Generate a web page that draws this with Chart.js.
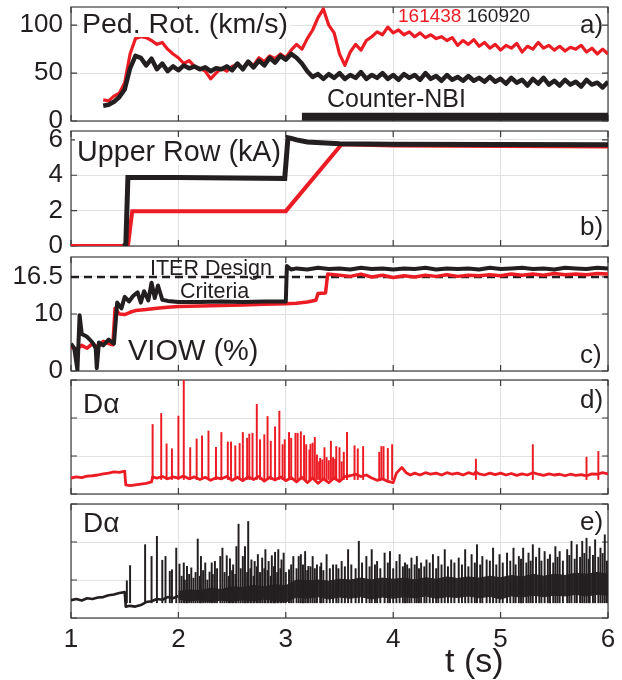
<!DOCTYPE html>
<html><head><meta charset="utf-8">
<script src="https://cdn.jsdelivr.net/npm/chart.js@4.4.1/dist/chart.umd.min.js"></script>
<style>
body{margin:0;background:#fff;width:622px;height:680px;position:relative;overflow:hidden;font-family:"Liberation Sans",Arial,Helvetica,sans-serif;}
canvas{position:absolute;left:0;}
svg{position:absolute;left:0;top:0;}
</style></head><body>
<canvas id="pa" width="622" height="162" style="top:-17px"></canvas>
<canvas id="pb" width="622" height="163" style="top:107px"></canvas>
<canvas id="pc" width="622" height="162" style="top:233px"></canvas>
<canvas id="pd" width="622" height="162" style="top:356px"></canvas>
<canvas id="pe" width="622" height="200" style="top:480px"></canvas>
<svg id="ann" width="622" height="680" xmlns="http://www.w3.org/2000/svg"></svg>
<script>
// ---------- DATA ----------
const xTicks = [1, 2, 3, 4, 5, 6];

// a) Pedestal rotation (km/s)
const tA = [1.30,1.35,1.40,1.45,1.50,1.55,1.60,1.65,1.70,1.75,1.80,1.85,1.90,1.95,2.00,2.05,2.10,2.15,2.20,2.25,2.30,2.35,2.40,2.45,2.50,2.55,2.60,2.65,2.70,2.75,2.80,2.85,2.90,2.95,3.00,3.05,3.10,3.15,3.20,3.25,3.30,3.35,3.40,3.45,3.50,3.55,3.60,3.65,3.70,3.75,3.80,3.85,3.90,3.95,4.00,4.05,4.10,4.15,4.20,4.25,4.30,4.35,4.40,4.45,4.50,4.55,4.60,4.65,4.70,4.75,4.80,4.85,4.90,4.95,5.00,5.05,5.10,5.15,5.20,5.25,5.30,5.35,5.40,5.45,5.50,5.55,5.60,5.65,5.70,5.75,5.80,5.85,5.90,5.95,6.00];
const rotRed = [22,21,26,29,40,70,86,88,87,84,
  80,82,75,70,66,60,63,57,55,52,
  44,50,55,52,57,59,55,62,58,66,
  62,68,65,70,66,74,80,75,86,95,
  108,117,100,92,70,58,72,80,74,84,
  88,93,90,98,92,95,90,93,88,92,
  87,90,86,88,84,87,79,84,80,85,
  78,82,76,80,74,79,76,81,72,78,
  75,82,76,79,74,78,73,77,75,79,
  72,76,70,75,70];
const rotBlack = [16,17,20,25,33,55,68,66,58,65,
  54,60,52,57,53,58,55,57,54,56,
  52,55,54,57,53,60,54,62,56,63,
  58,66,61,68,64,70,66,60,52,46,
  49,44,49,45,50,44,48,45,51,44,
  48,45,50,44,48,43,49,45,48,43,
  50,44,47,42,48,43,46,42,47,42,
  45,41,46,41,44,39,45,40,43,37,
  44,39,45,38,42,37,43,38,41,36,
  43,38,40,35,41];
const yTicksA = [0, 50, 100];
const nbiT = [3.15, 6.0];
const nbiV = [4.5, 4.5];

// b) Upper row coil current (kA)
const tRowRed = [1.00,1.53,1.57,2.00,3.00,3.52,4.00,5.00,6.00];
const rowRed = [0,0,1.97,1.97,1.97,5.75,5.68,5.65,5.62];
const tRowBlack = [1.48,1.51,1.53,2.00,2.50,2.99,3.02,3.05,3.10,3.20,3.50,4.00,5.00,6.00];
const rowBlack = [0,0,3.87,3.87,3.85,3.82,6.12,6.08,6.00,5.88,5.78,5.75,5.73,5.72];
const yTicksB = [0, 2, 4, 6];

// c) VIOW (%)
const tViowRed = [1.00,1.05,1.10,1.15,1.20,1.25,1.30,1.35,1.39,1.41,1.45,1.50,1.55,1.60,1.70,1.80,1.90,2.00,2.20,2.40,2.60,2.80,3.00,3.10,3.20,3.28,3.30,3.37,3.39,
  3.50,3.60,3.70,3.80,3.90,4.00,4.10,4.20,4.30,4.40,4.50,4.60,4.70,4.80,4.90,5.00,5.10,5.20,5.30,5.40,5.50,5.60,5.70,5.80,5.90,6.00];
const viowRed = [4.2,3.8,4.5,4.0,4.8,4.2,5.2,4.8,4.6,11.0,10.0,9.9,10.3,10.6,10.8,11.0,11.2,11.3,11.4,11.5,11.6,11.7,11.8,11.9,12.1,12.4,13.6,13.7,17.0,
  16.8,16.6,17.0,16.5,16.8,16.4,16.7,16.5,16.8,16.6,16.9,16.6,16.8,16.7,16.9,16.7,17.0,16.8,17.0,16.8,17.1,16.9,17.0,16.9,17.1,17.0];
const tViowBlack = [1.00,1.03,1.06,1.08,1.10,1.15,1.20,1.23,1.24,1.26,1.30,1.35,1.40,1.43,1.47,1.50,1.54,1.58,1.62,1.65,1.68,1.72,1.75,1.78,1.81,1.85,1.90,2.00,2.20,2.40,2.60,2.80,3.00,3.01,3.05,
  3.10,3.20,3.30,3.40,3.50,3.60,3.70,3.80,3.90,4.00,4.10,4.20,4.30,4.40,4.50,4.60,4.70,4.80,4.90,5.00,5.10,5.20,5.30,5.40,5.50,5.60,5.70,5.80,5.90,6.00];
const viowBlack = [4.8,4.0,0.2,9.8,6.5,6.0,5.0,4.0,0.5,5.0,4.5,5.5,4.8,12.0,11.0,13.0,12.2,13.2,13.8,12.0,14.0,12.4,15.5,12.8,15.0,12.5,12.3,12.1,12.1,12.2,12.1,12.2,12.2,18.4,17.8,
  18.0,17.8,18.1,17.9,18.0,17.8,18.1,17.9,18.0,17.8,18.0,17.9,18.1,17.8,18.0,17.9,18.0,17.8,18.1,17.9,18.0,18.1,17.9,18.0,17.8,18.1,18.0,17.9,18.1,18.0];
const iterT = [1, 6];
const iterV = [16.5, 16.5];
const yTicksC = [0, 10, 16.5];

// d) D-alpha, 161438 (arb. units)
const tD = [1.00,1.05,1.10,1.15,1.20,1.25,1.30,1.35,1.40,1.45,1.50,1.51,1.55,1.60,1.65,1.70,1.75,1.76,1.80,1.85,1.90,1.95,2.00,2.05,2.10,2.15,2.20,2.25,2.30,2.35,2.40,2.45,2.50,2.55,2.60,2.65,2.70,2.75,2.80,2.85,2.90,2.95,3.00,3.05,3.10,3.15,3.20,3.25,3.30,3.35,3.40,3.45,3.50,3.55,3.60,3.65,3.70,3.75,3.80,3.85,3.90,3.95,4.00,4.03,4.08,4.12,4.16,4.20,4.25,4.30,4.35,4.40,4.45,4.50,4.55,4.60,4.65,4.70,4.75,4.77,4.80,4.85,4.90,4.95,5.00,5.05,5.10,5.15,5.20,5.25,5.30,5.35,5.40,5.45,5.50,5.55,5.60,5.65,5.70,5.75,5.80,5.85,5.90,5.95,6.00];
const dBase = [0.42,0.45,0.43,0.47,0.48,0.50,0.53,0.55,0.58,0.57,0.60,0.24,0.22,0.24,0.26,0.28,0.32,0.45,0.42,0.46,0.40,0.45,0.42,0.47,0.40,0.45,0.38,0.44,0.36,0.43,0.40,0.46,0.36,0.44,0.35,0.45,0.38,0.46,0.34,0.44,0.37,0.45,0.35,0.43,0.32,0.44,0.30,0.42,0.28,0.40,0.30,0.42,0.33,0.46,0.48,0.52,0.46,0.50,0.42,0.36,0.40,0.33,0.30,0.55,0.70,0.56,0.50,0.55,0.50,0.56,0.52,0.55,0.50,0.56,0.52,0.55,0.50,0.56,0.52,0.58,0.53,0.50,0.55,0.51,0.55,0.50,0.54,0.49,0.53,0.50,0.56,0.52,0.49,0.53,0.50,0.52,0.48,0.52,0.49,0.51,0.48,0.53,0.52,0.56,0.53];
const dSpikeT = [1.76,1.84,1.89,1.94,2.00,2.05,2.11,2.17,2.22,2.28,2.35,2.40,2.46,2.49,2.53,2.57,2.60,2.64,2.66,2.69,2.73,2.76,2.80,2.83,2.86,2.90,2.94,2.97,2.99,3.03,3.05,3.09,3.11,3.14,3.17,3.19,3.22,3.23,3.25,3.27,3.29,3.32,3.36,3.38,3.42,3.44,3.47,3.50,3.54,3.57,3.64,3.67,3.72,3.87,3.89,3.91,3.95,3.99,4.77,5.30,5.80,5.91,3.31,3.34,3.40,3.46,3.52];
const dSpikeV = [1.83,2.12,1.32,1.19,2.05,3.0,1.22,1.45,1.53,1.66,1.23,1.62,1.37,1.37,1.27,1.33,1.62,1.47,1.58,1.60,2.36,1.43,1.56,2.04,1.39,1.77,2.18,1.30,1.43,1.62,1.47,1.60,1.60,1.64,1.54,1.30,1.16,1.31,1.34,1.49,1.03,0.94,1.22,0.96,1.39,0.96,1.25,1.22,1.10,1.62,1.27,1.19,1.25,1.10,1.25,1.25,1.20,1.30,0.92,1.30,0.97,1.12,0.85,0.90,0.88,0.92,0.85];
const dSpikeFloor = 0.38;

// e) D-alpha, 160920 (arb. units)
const tEBase = [1.00,1.05,1.10,1.15,1.20,1.25,1.30,1.35,1.40,1.45,1.50,1.51,1.55,1.60,1.65,1.70,1.75,1.80,1.85,1.90,1.95,2.00];
const eBase = [0.47,0.50,0.46,0.52,0.50,0.54,0.55,0.60,0.62,0.66,0.68,0.30,0.32,0.30,0.34,0.42,0.44,0.50,0.48,0.55,0.52,0.58];
const tEBand = [2.0,2.1,2.2,2.3,2.4,2.5,2.6,2.7,2.8,2.9,3.0,3.1,3.2,3.3,3.4,3.5,3.6,3.7,3.8,3.9,4.0,4.1,4.2,4.3,4.4,4.5,4.6,4.7,4.8,4.9,5.0,5.1,5.2,5.3,5.4,5.5,5.6,5.7,5.8,5.9,6.0];
const eBandHi = [0.70,0.74,0.72,0.78,0.75,0.82,0.80,0.86,0.82,0.88,0.85,1.00,0.98,1.00,0.97,1.02,1.00,1.05,1.00,1.05,1.02,1.05,1.00,1.06,1.02,1.08,1.04,1.08,1.05,1.10,1.06,1.12,1.08,1.15,1.10,1.15,1.12,1.18,1.15,1.20,1.15];
const eBandLo = [0.50,0.45,0.48,0.42,0.47,0.44,0.48,0.45,0.50,0.46,0.42,0.55,0.52,0.56,0.50,0.55,0.52,0.56,0.50,0.55,0.52,0.56,0.53,0.58,0.52,0.56,0.54,0.58,0.53,0.57,0.50,0.58,0.55,0.60,0.56,0.60,0.58,0.62,0.58,0.62,0.60];
const eSpikeT = [1.52,1.55,1.69,1.75,1.80,1.85,1.88,1.92,1.94,1.98,2.01,2.05,2.08,2.12,2.18,2.21,2.25,2.29,2.31,2.34,2.39,2.41,2.45,2.48,2.51,2.54,2.56,2.60,2.62,2.65,2.68,2.71,2.74,2.78,2.81,2.84,2.87,2.90,2.93,2.96,2.98,3.03,3.07,3.12,3.14,3.18,3.21,3.25,3.29,3.33,3.38,3.44,3.52,3.58,3.68,3.75,3.80,3.85,3.92,3.97,4.03,4.06,4.13,4.17,4.22,4.26,4.31,4.37,4.42,4.48,4.54,4.61,4.67,4.73,4.78,4.83,4.87,4.93,4.99,5.06,5.12,5.17,5.21,5.26,5.30,5.36,5.41,5.46,5.51,5.55,5.62,5.66,5.71,5.76,5.80,5.83,5.88,5.93,5.97,
  2.03,2.06,2.10,2.14,2.16,2.20,2.23,2.27,2.32,2.36,2.43,2.47,2.50,2.53,2.58,2.64,2.67,2.70,2.73,2.76,2.80,2.83,2.86,2.89,2.92,2.95,3.00,3.05,3.10,3.16,3.20,3.23,3.27,3.32,3.35,3.41,3.47,3.49,3.55,3.61,3.65,3.71,3.78,3.83,3.88,3.95,4.00,4.09,4.11,4.15,4.20,4.24,4.29,4.34,4.40,4.45,4.51,4.57,4.64,4.70,4.76,4.81,4.90,4.96,5.02,5.09,5.14,5.19,5.24,5.28,5.33,5.38,5.44,5.49,5.53,5.58,5.64,5.69,5.74,5.78,5.82,5.86,5.91,5.95,5.99];
const eSpikeV = [0.98,1.38,1.93,1.62,2.15,1.52,1.62,1.23,1.27,1.84,1.42,1.45,1.36,1.32,2.08,1.62,1.45,1.21,1.45,1.49,1.62,1.84,1.64,1.56,1.40,1.88,2.47,1.62,1.88,2.54,1.53,1.49,1.67,1.58,1.80,1.49,1.64,1.73,1.80,1.53,1.71,1.27,1.62,1.62,1.67,1.75,1.36,1.62,1.40,1.45,1.67,1.40,1.49,1.80,2.02,1.62,1.80,1.49,1.71,1.75,1.49,1.67,1.40,1.58,1.62,1.45,1.53,1.67,1.62,1.80,1.53,1.58,1.80,1.67,1.93,1.62,1.53,1.84,1.67,1.71,1.84,1.62,1.84,1.71,1.93,1.84,1.75,1.67,1.88,1.75,1.80,2.02,1.93,2.02,2.10,1.88,2.06,1.84,2.19,
  1.10,1.00,1.15,1.05,1.20,1.10,1.25,1.00,1.15,1.30,1.20,1.10,1.25,1.15,1.30,1.20,1.30,1.10,1.35,1.20,1.30,1.25,1.10,1.35,1.20,1.30,1.20,1.40,1.30,1.40,1.25,1.35,1.30,1.35,1.25,1.30,1.40,1.30,1.35,1.40,1.30,1.45,1.35,1.40,1.30,1.45,1.30,1.35,1.45,1.30,1.40,1.30,1.35,1.45,1.30,1.40,1.35,1.45,1.40,1.35,1.45,1.40,1.50,1.40,1.45,1.50,1.40,1.55,1.45,1.50,1.60,1.50,1.55,1.45,1.60,1.50,1.65,1.55,1.60,1.70,1.55,1.65,1.60,1.70,1.50];
const eSpikeFloor = 0.40;
const yTicksDE = [0, 1, 2, 3];

// ---------- STYLE ----------
const RED = '#ec1c24', BLACK = '#231f20';
const GRID = '#e2e2e2', FRAME = '#3c3c3c', TEXT = '#231f20';
const FONT = '"Liberation Sans", Arial, Helvetica, sans-serif';
const PAD = 24;

const xy = (ts, vs) => ts.map((t, i) => ({x: t, y: vs[i]}));
const bars = (ts, vs, floor) => ts.map((t, i) => ({x: t, y: [floor, vs[i]]}));

const framePlugin = {
  id: 'frame',
  beforeDatasetsDraw(chart) {
    const {ctx, chartArea: a, scales} = chart;
    ctx.save();
    ctx.strokeStyle = FRAME;
    ctx.lineWidth = 1.2;
    ctx.strokeRect(a.left, a.top, a.right - a.left, a.bottom - a.top);
    const L = 6;
    ctx.beginPath();
    scales.x.ticks.forEach(t => {
      const p = scales.x.getPixelForValue(t.value);
      ctx.moveTo(p, a.bottom); ctx.lineTo(p, a.bottom - L);
      ctx.moveTo(p, a.top); ctx.lineTo(p, a.top + L);
    });
    scales.y.ticks.forEach(t => {
      const p = scales.y.getPixelForValue(t.value);
      ctx.moveTo(a.left, p); ctx.lineTo(a.left + L, p);
      ctx.moveTo(a.right, p); ctx.lineTo(a.right - L, p);
    });
    ctx.stroke();
    ctx.restore();
  }
};

function line(data, color, width, extra) {
  return Object.assign({type: 'line', data, borderColor: color, backgroundColor: color,
    borderWidth: width, pointRadius: 0, tension: 0, fill: false, borderJoinStyle: 'round'}, extra || {});
}
function spikes(data, color) {
  return {type: 'bar', data, backgroundColor: color, borderWidth: 0, barThickness: 1.3, grouped: false};
}

function makePanel(id, datasets, yMin, yMax, yTicks, showY, showX) {
  return new Chart(document.getElementById(id), {
    type: 'line',
    data: {datasets},
    options: {
      responsive: false, animation: false, devicePixelRatio: 1,
      layout: {padding: {left: 0, right: 14, top: PAD, bottom: showX ? 0 : PAD}},
      plugins: {legend: {display: false}, tooltip: {enabled: false}},
      scales: {
        x: {type: 'linear', min: 1, max: 6, offset: false,
          grid: {color: GRID, drawTicks: false, offset: false},
          border: {display: false},
          ticks: {display: showX, padding: 6, color: TEXT, font: {family: FONT, size: 26}},
          afterBuildTicks: s => { s.ticks = xTicks.map(v => ({value: v})); },
          afterFit: s => { s.height = showX ? 62 : 0; }},
        y: {type: 'linear', min: yMin, max: yMax,
          grid: {color: GRID, drawTicks: false},
          border: {display: false},
          ticks: {display: showY, padding: 8, color: TEXT, font: {family: FONT, size: 26}, callback: v => String(v)},
          afterBuildTicks: s => { s.ticks = yTicks.map(v => ({value: v})); },
          afterFit: s => { s.width = 71; }}
      }
    },
    plugins: [framePlugin]
  });
}

makePanel('pa', [
  line(xy(tA, rotBlack), BLACK, 4.5),
  line(xy(tA, rotRed), RED, 3.2),
  line(xy(nbiT, nbiV), BLACK, 8, {borderCapStyle: 'butt'})
], 0, 119, yTicksA, true, false);

makePanel('pb', [
  line(xy(tRowBlack, rowBlack), BLACK, 5, {borderJoinStyle: 'miter'}),
  line(xy(tRowRed, rowRed), RED, 4, {borderJoinStyle: 'miter'})
], 0, 6.5, yTicksB, true, false);

makePanel('pc', [
  line(xy(tViowBlack, viowBlack), BLACK, 4),
  line(xy(tViowRed, viowRed), RED, 3.5),
  line(xy(iterT, iterV), BLACK, 2.5, {borderDash: [8, 5]})
], 0, 20, yTicksC, true, false);

makePanel('pd', [
  line(xy(tD, dBase), RED, 2.8),
  spikes(bars(dSpikeT, dSpikeV, dSpikeFloor), RED)
], 0, 3, yTicksDE, false, false);

makePanel('pe', [
  spikes(bars(eSpikeT, eSpikeV, eSpikeFloor), BLACK),
  line(xy(tEBase, eBase), BLACK, 2.6),
  line(xy(tEBand, eBandHi), BLACK, 1, {fill: '+1', backgroundColor: '#2e2a2b'}),
  line(xy(tEBand, eBandLo), BLACK, 1)
], 0, 3, yTicksDE, false, true);

// ---------- TEXT ----------
const labels = [
  {t: 'Ped. Rot. (km/s)', x: 82, y: 33, s: 28.5, bg: true},
  {t: 'a)', x: 580, y: 33, s: 26},
  {t: 'Counter-NBI', x: 327, y: 107, s: 25},
  {t: 'Upper Row (kA)', x: 77, y: 161, s: 28.7, bg: true},
  {t: 'b)', x: 580, y: 235, s: 26},
  {t: 'ITER Design', x: 150, y: 275, s: 21.5},
  {t: 'Criteria', x: 180, y: 298, s: 21.5},
  {t: 'VIOW (%)', x: 128, y: 360, s: 29},
  {t: 'c)', x: 580, y: 363, s: 26},
  {t: 'D\u03B1', x: 83, y: 413, s: 28},
  {t: 'd)', x: 580, y: 408, s: 26},
  {t: 'D\u03B1', x: 83, y: 532, s: 28},
  {t: 'e)', x: 580, y: 530, s: 26},
  {t: 't (s)', x: 445, y: 672, s: 34}
];
const NS = 'http://www.w3.org/2000/svg';
const svg = document.getElementById('ann');
function addText(l) {
  const el = document.createElementNS(NS, 'text');
  el.setAttribute('x', l.x); el.setAttribute('y', l.y);
  el.setAttribute('font-family', FONT); el.setAttribute('font-size', l.s);
  el.setAttribute('fill', l.c || TEXT);
  el.textContent = l.t;
  svg.appendChild(el);
  if (l.bg) {
    const b = el.getBBox();
    const r = document.createElementNS(NS, 'rect');
    r.setAttribute('x', b.x - 2); r.setAttribute('y', b.y + 2);
    r.setAttribute('width', b.width + 4); r.setAttribute('height', b.height - 4);
    r.setAttribute('fill', '#fff');
    svg.insertBefore(r, el);
  }
  return el;
}
labels.forEach(addText);
// shot numbers
const shot = document.createElementNS(NS, 'text');
shot.setAttribute('x', 398); shot.setAttribute('y', 22);
shot.setAttribute('font-family', FONT); shot.setAttribute('font-size', 19);
const s1 = document.createElementNS(NS, 'tspan'); s1.setAttribute('fill', RED); s1.textContent = '161438 ';
const s2 = document.createElementNS(NS, 'tspan'); s2.setAttribute('fill', TEXT); s2.textContent = '160920';
shot.appendChild(s1); shot.appendChild(s2);
svg.appendChild(shot);
</script>
</body></html>
